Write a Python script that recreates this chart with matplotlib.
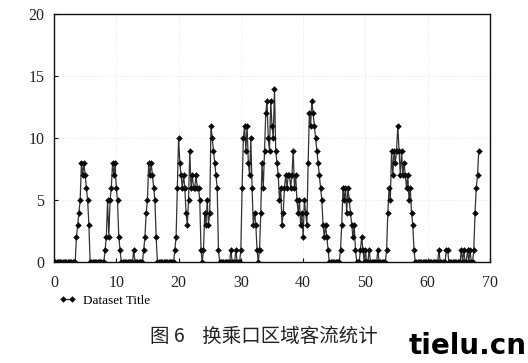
import numpy as np
import matplotlib
matplotlib.use("Agg")
import matplotlib.pyplot as plt

# passenger count per sample, one sample every 0.2 units (10 per row)
flow = [
    0, 0, 0, 0, 0, 0, 0, 0, 0, 0,        # 0.0
    0, 0, 0, 0, 0, 0, 0, 0, 2, 3,        # 2.0
    4, 5, 8, 7, 8, 7, 6, 5, 3, 0,        # 4.0
    0, 0, 0, 0, 0, 0, 0, 0, 0, 0,        # 6.0
    0, 1, 2, 5, 2, 5, 6, 8, 7, 8,        # 8.0
    6, 5, 2, 1, 0, 0, 0, 0, 0, 0,        # 10.0
    0, 0, 0, 0, 1, 0, 0, 0, 0, 0,        # 12.0
    0, 0, 1, 2, 4, 5, 8, 7, 8, 7,        # 14.0
    6, 5, 2, 0, 0, 0, 0, 0, 0, 0,        # 16.0
    0, 0, 0, 0, 0, 0, 0, 1, 2, 6,        # 18.0
    10, 8, 7, 6, 7, 6, 4, 3, 5, 9,       # 20.0
    6, 7, 6, 6, 7, 6, 6, 5, 1, 0,        # 22.0
    1, 4, 3, 5, 3, 4, 11, 10, 9, 8,      # 24.0
    7, 6, 1, 0, 0, 0, 0, 0, 0, 0,        # 26.0
    0, 0, 1, 0, 0, 0, 1, 0, 0, 0,        # 28.0
    1, 6, 10, 11, 9, 11, 8, 7, 10, 6,    # 30.0
    3, 4, 3, 1, 0, 1, 4, 8, 6, 9,        # 32.0
    12, 13, 10, 9, 13, 11, 10, 14, 9, 8, # 34.0
    7, 5, 6, 3, 4, 6, 7, 6, 7, 7,        # 36.0
    6, 7, 9, 6, 7, 5, 4, 5, 3, 4,        # 38.0
    2, 5, 4, 3, 8, 12, 11, 13, 12, 11,   # 40.0
    10, 9, 8, 7, 6, 5, 3, 2, 3, 2,       # 42.0
    1, 0, 0, 0, 0, 0, 0, 0, 0, 0,        # 44.0
    1, 3, 6, 5, 6, 4, 6, 5, 4, 3,        # 46.0
    2, 3, 1, 0, 0, 0, 1, 2, 1, 0,        # 48.0
    1, 0, 0, 1, 0, 0, 0, 0, 0, 0,        # 50.0
    1, 0, 0, 0, 0, 0, 0, 1, 4, 6,        # 52.0
    5, 9, 7, 9, 8, 9, 11, 9, 7, 9,       # 54.0
    7, 8, 7, 6, 7, 5, 6, 4, 3, 1,        # 56.0
    0, 0, 0, 0, 0, 0, 0, 0, 0, 0,        # 58.0
    0, 0, 0, 0, 0, 0, 0, 0, 0, 1,        # 60.0
    0, 0, 0, 0, 0, 1, 1, 0, 0, 0,        # 62.0
    0, 0, 0, 0, 0, 0, 0, 1, 0, 1,        # 64.0
    0, 0, 1, 0, 1, 0, 0, 1, 4, 6,        # 66.0
    7, 9,                                # 68.0
]
step = 0.2
x_ticks = [0, 10, 20, 30, 40, 50, 60, 70]
y_ticks = [0, 5, 10, 15, 20]
series_name = "Dataset Title"
caption = "图 6    换乘口区域客流统计"

t = np.arange(len(flow)) * step

fig = plt.figure(figsize=(5.28, 3.63), dpi=100, facecolor="white")
ax = fig.add_axes([0.1023, 0.278, 0.8257, 0.683])

ax.plot(t, flow, color="#333333", linewidth=0.9,
        marker="D", markersize=3.0, markerfacecolor="#0a0a0a",
        markeredgecolor="#0a0a0a", markeredgewidth=0.3, label=series_name)

ax.set_xlim(0, 70)
ax.set_ylim(0, 20)
ax.set_xticks(x_ticks)
ax.set_yticks(y_ticks)
ax.grid(True, color="#e0e0e0", linestyle=":", linewidth=0.6)
ax.set_axisbelow(True)

for s in ax.spines.values():
    s.set_color("#111111")
    s.set_linewidth(1.0)

ax.tick_params(direction="in", length=3, width=0.8, colors="#111111")
ax.tick_params(axis="x", pad=9)
ax.tick_params(axis="y", pad=7)
for lbl in ax.get_xticklabels() + ax.get_yticklabels():
    lbl.set_fontfamily("Liberation Serif")
    lbl.set_fontsize(11.5)
    lbl.set_color("#222222")

ax.legend(loc="center left", bbox_to_anchor=(0.0, -0.155), frameon=False,
          numpoints=2, handlelength=1.3, handletextpad=0.5,
          prop={"family": "Liberation Serif", "size": 9.5}, borderaxespad=0)

fig.text(0.50, 0.072, caption, ha="center", va="center",
         fontsize=14, family=["Noto Sans CJK SC", "DejaVu Sans"], color="#222222")

fig.text(0.998, 0.048, "tielu.cn", ha="right", va="center",
         fontsize=20, fontweight="bold", family="DejaVu Sans", color="#000000")

fig.savefig("out.png", dpi=100, facecolor="white")
